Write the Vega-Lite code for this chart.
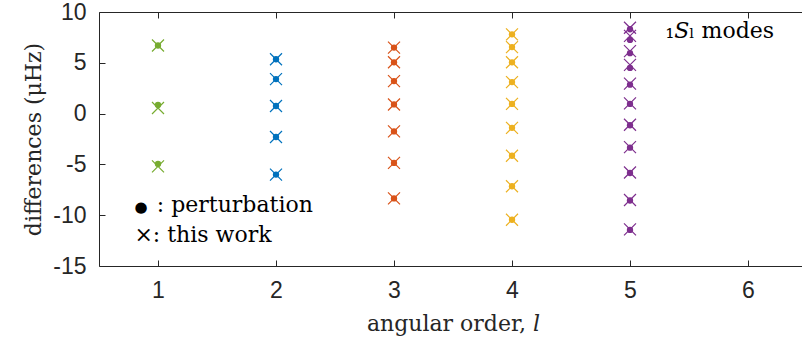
{
  "$schema": "https://vega.github.io/schema/vega-lite/v6.json",
  "width": 708,
  "height": 254,
  "autosize": "none",
  "padding": {"left": 99, "top": 12, "right": 0, "bottom": 75},
  "background": "white",
  "config": {
    "view": {"stroke": null},
    "axis": {
      "grid": false,
      "domainColor": "#262626",
      "tickColor": "#262626",
      "labelColor": "#262626",
      "titleColor": "#262626",
      "labelFont": "Liberation Sans",
      "labelFontSize": 23,
      "titleFont": "DejaVu Serif",
      "titleFontSize": 22,
      "titleFontWeight": "normal",
      "domainWidth": 1,
      "tickWidth": 1
    }
  },
  "data": {
    "values": [
      {"l": 1, "pert": 6.7, "work": 6.7},
      {"l": 1, "pert": 0.85, "work": 0.55},
      {"l": 1, "pert": -4.95, "work": -5.2},
      {"l": 2, "pert": 5.35, "work": 5.35},
      {"l": 2, "pert": 3.4, "work": 3.4},
      {"l": 2, "pert": 0.75, "work": 0.75},
      {"l": 2, "pert": -2.3, "work": -2.3},
      {"l": 2, "pert": -6.0, "work": -6.0},
      {"l": 3, "pert": 6.5, "work": 6.5},
      {"l": 3, "pert": 5.05, "work": 5.05},
      {"l": 3, "pert": 3.2, "work": 3.2},
      {"l": 3, "pert": 0.9, "work": 0.9},
      {"l": 3, "pert": -1.75, "work": -1.75},
      {"l": 3, "pert": -4.85, "work": -4.85},
      {"l": 3, "pert": -8.35, "work": -8.35},
      {"l": 4, "pert": 7.8, "work": 7.8},
      {"l": 4, "pert": 6.55, "work": 6.55},
      {"l": 4, "pert": 5.05, "work": 5.05},
      {"l": 4, "pert": 3.1, "work": 3.1},
      {"l": 4, "pert": 0.95, "work": 0.95},
      {"l": 4, "pert": -1.4, "work": -1.4},
      {"l": 4, "pert": -4.15, "work": -4.15},
      {"l": 4, "pert": -7.15, "work": -7.15},
      {"l": 4, "pert": -10.45, "work": -10.45},
      {"l": 5, "pert": 8.3, "work": 8.45},
      {"l": 5, "pert": 7.25, "work": 7.65},
      {"l": 5, "pert": 5.95, "work": 6.15},
      {"l": 5, "pert": 4.5, "work": 4.8},
      {"l": 5, "pert": 2.85, "work": 2.95},
      {"l": 5, "pert": 0.95, "work": 1.0},
      {"l": 5, "pert": -1.15, "work": -1.1},
      {"l": 5, "pert": -3.35, "work": -3.3},
      {"l": 5, "pert": -5.85, "work": -5.8},
      {"l": 5, "pert": -8.55, "work": -8.5},
      {"l": 5, "pert": -11.45, "work": -11.4}
    ]
  },
  "resolve": {"axis": {"x": "independent"}},
  "layer": [
    {
      "mark": {"type": "point", "filled": true, "shape": "circle", "size": 40, "opacity": 1},
      "encoding": {
        "x": {
          "field": "l", "type": "quantitative",
          "scale": {"domain": [0.5, 6.5], "nice": false, "zero": false},
          "axis": {"values": [1, 2, 3, 4, 5, 6], "title": "angular order, 𝑙", "tickSize": -6, "labelPadding": 19, "titlePadding": 11, "orient": "bottom"}
        },
        "y": {
          "field": "pert", "type": "quantitative",
          "scale": {"domain": [-15, 10], "nice": false, "zero": false},
          "axis": {"values": [-15, -10, -5, 0, 5, 10], "title": "differences (μHz)", "tickSize": -6, "labelPadding": 19, "titlePadding": 7, "labelExpr": "datum.value < 0 ? '-' + abs(datum.value) : '' + datum.value"}
        },
        "color": {
          "field": "l", "type": "nominal",
          "scale": {"domain": [1, 2, 3, 4, 5], "range": ["#77AC30", "#0072BD", "#D95319", "#EDB120", "#7E2F8E"]},
          "legend": null
        }
      }
    },
    {
      "mark": {"type": "point", "filled": false, "shape": "M-1,-1L1,1M-1,1L1,-1", "size": 144, "strokeWidth": 1.2, "opacity": 1},
      "encoding": {
        "x": {
          "field": "l", "type": "quantitative",
          "axis": {"values": [1, 2, 3, 4, 5, 6], "orient": "top", "labels": false, "title": null, "tickSize": -6, "domain": true, "ticks": true}
        },
        "y": {"field": "work", "type": "quantitative"},
        "color": {"field": "l", "type": "nominal", "legend": null}
      }
    },
    {
      "data": {"values": [
        {"x": 0.8, "y": -9.7, "t": "●", "s": 15},
        {"x": 0.99, "y": -9.7, "t": ":  perturbation", "s": 22},
        {"x": 0.8, "y": -12.65, "t": "×:  this work", "s": 22},
        {"x": 5.3, "y": 7.45, "t": "₁𝑆ₗ modes", "s": 22}
      ]},
      "mark": {"type": "text", "align": "left", "baseline": "alphabetic", "font": "DejaVu Serif", "color": "black"},
      "encoding": {
        "x": {"field": "x", "type": "quantitative", "axis": null},
        "y": {"field": "y", "type": "quantitative"},
        "text": {"field": "t"},
        "size": {"field": "s", "type": "quantitative", "scale": null, "legend": null}
      }
    }
  ]
}
